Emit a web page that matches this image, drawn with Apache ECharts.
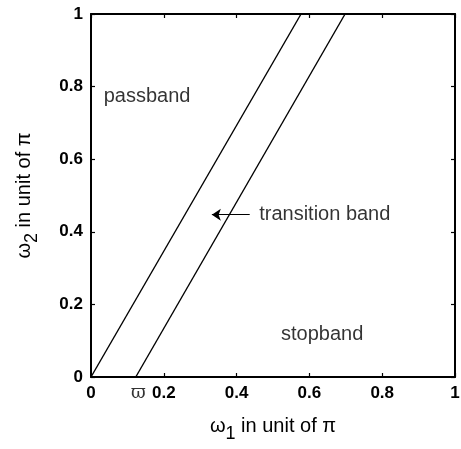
<!DOCTYPE html>
<html>
<head>
<meta charset="utf-8">
<script src="https://cdn.jsdelivr.net/npm/echarts@6/dist/echarts.min.js"></script>
<style>
  html, body { margin: 0; padding: 0; background: #fff; }
  #box { width: 461px; height: 449px; }
</style>
</head>
<body>
<div id="box"></div>
<script>
// band edges: omega2 = slope * (omega1 - start)
var passEdge = [[0, 0], [0.577, 1]];
var stopEdge = [[0.123, 0], [0.698, 1]];
var varpi = 0.13;
var arrowLine = [[0.436, 0.447], [0.332, 0.447]];
var notes = [
    { name: 'passband', value: [0.035, 0.774] },
    { name: 'transition band', value: [0.462, 0.447] },
    { name: 'stopband', value: [0.522, 0.116] }
];
var tickMin = 0, tickMax = 1, tickStep = 0.2;

var myChart = echarts.init(document.getElementById('box'));
var ink = '#000';
var txt = '#000';
var tickFont = { color: txt, fontSize: 17, fontWeight: 'bold', fontFamily: 'Liberation Sans' };
var nameRich = {
    w: { fontSize: 20, fontFamily: 'Liberation Sans', color: txt },
    s: { fontSize: 18, fontFamily: 'Liberation Sans', color: txt, padding: [15, 0, 0, 0] },
    t: { fontSize: 20, fontFamily: 'Liberation Sans', color: txt }
};

function baseAxis(pos, show) {
    return {
        type: 'value',
        position: pos,
        min: tickMin,
        max: tickMax,
        interval: tickStep,
        axisLine: { show: true, onZero: false, lineStyle: { color: ink, width: 2 } },
        axisTick: { show: true, inside: true, length: 4, lineStyle: { color: ink, width: 1.2 } },
        splitLine: { show: false },
        axisLabel: show ? Object.assign({ show: true, margin: 8 }, tickFont) : { show: false }
    };
}

var xb = baseAxis('bottom', true);
xb.axisLabel.margin = 8;
xb.name = '{w|ω}{s|1}{t| in unit of π}';
xb.nameLocation = 'middle';
xb.nameGap = 33;
xb.nameTextStyle = { rich: nameRich };
var xt = baseAxis('top', false);
var yl = baseAxis('left', true);
yl.name = '{w|ω}{s|2}{t| in unit of π}';
yl.nameLocation = 'middle';
yl.nameGap = 50;
yl.nameTextStyle = { rich: nameRich };
var yr = baseAxis('right', false);

myChart.setOption({
    animation: false,
    grid: { left: 91, right: 6, top: 14, bottom: 72, outerBoundsMode: 'none' },
    xAxis: [xb, xt],
    yAxis: [yl, yr],
    series: [
        {
            type: 'line',
            data: passEdge,
            symbol: 'none',
            lineStyle: { color: ink, width: 1.4 }
        },
        {
            type: 'line',
            data: stopEdge,
            symbol: 'none',
            lineStyle: { color: ink, width: 1.4 }
        },
        {
            type: 'lines',
            coordinateSystem: 'cartesian2d',
            symbol: ['none', 'arrow'],
            symbolSize: [0, 9],
            lineStyle: { color: ink, width: 1.2, opacity: 1 },
            data: [{ coords: arrowLine }]
        },
        {
            type: 'scatter',
            symbolSize: 0,
            data: notes,
            label: {
                show: true,
                position: 'right',
                distance: 0,
                formatter: '{b}',
                color: txt,
                fontSize: 20,
                fontFamily: 'Liberation Sans'
            }
        },
        {
            type: 'scatter',
            symbolSize: 0,
            clip: false,
            data: [{ name: 'ϖ', value: [varpi, 0] }],
            label: {
                show: true,
                position: 'bottom',
                distance: 7,
                formatter: '{b}',
                color: txt,
                fontSize: 18,
                fontFamily: 'DejaVu Serif'
            }
        }
    ]
});
</script>
</body>
</html>
